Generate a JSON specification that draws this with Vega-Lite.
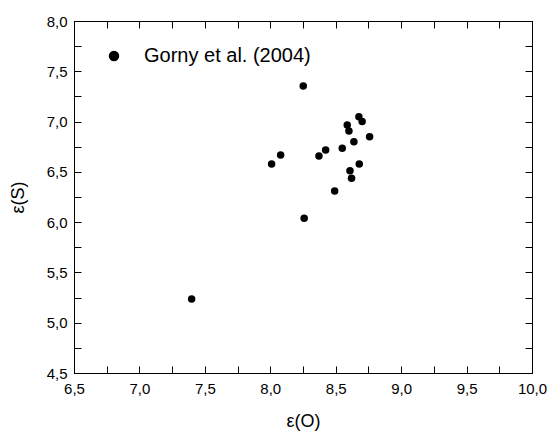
{
  "$schema": "https://vega.github.io/schema/vega-lite/v6.json",
  "width": 458,
  "height": 352,
  "autosize": "none",
  "padding": {"left": 74, "top": 21, "right": 21, "bottom": 59},
  "background": "white",
  "config": {
    "view": {"stroke": "black", "strokeWidth": 1},
    "font": "Liberation Sans",
    "axis": {"grid": false, "domainColor": "black", "tickColor": "black", "labelColor": "black", "titleColor": "black", "titleFontWeight": "normal", "labelFont": "Liberation Sans", "titleFont": "Liberation Sans", "labelOverlap": false, "labelFlush": false}
  },
  "data": {
    "values": [
      {"O": 8.252, "S": 7.354, "series": "Gorny et al. (2004)"},
      {"O": 8.677, "S": 7.049, "series": "Gorny et al. (2004)"},
      {"O": 8.702, "S": 7.0, "series": "Gorny et al. (2004)"},
      {"O": 8.588, "S": 6.966, "series": "Gorny et al. (2004)"},
      {"O": 8.601, "S": 6.907, "series": "Gorny et al. (2004)"},
      {"O": 8.759, "S": 6.85, "series": "Gorny et al. (2004)"},
      {"O": 8.639, "S": 6.8, "series": "Gorny et al. (2004)"},
      {"O": 8.55, "S": 6.735, "series": "Gorny et al. (2004)"},
      {"O": 8.423, "S": 6.718, "series": "Gorny et al. (2004)"},
      {"O": 8.372, "S": 6.658, "series": "Gorny et al. (2004)"},
      {"O": 8.079, "S": 6.668, "series": "Gorny et al. (2004)"},
      {"O": 8.01, "S": 6.579, "series": "Gorny et al. (2004)"},
      {"O": 8.68, "S": 6.579, "series": "Gorny et al. (2004)"},
      {"O": 8.609, "S": 6.512, "series": "Gorny et al. (2004)"},
      {"O": 8.621, "S": 6.436, "series": "Gorny et al. (2004)"},
      {"O": 8.492, "S": 6.31, "series": "Gorny et al. (2004)"},
      {"O": 8.259, "S": 6.039, "series": "Gorny et al. (2004)"},
      {"O": 7.399, "S": 5.235, "series": "Gorny et al. (2004)"}
    ]
  },
  "resolve": {"axis": {"x": "independent", "y": "independent"}},
  "layer": [
    {
      "mark": {"type": "point", "filled": true, "opacity": 1, "size": 56},
      "encoding": {
        "x": {
          "field": "O", "type": "quantitative",
          "scale": {"domain": [6.5, 10.0], "nice": false, "zero": false},
          "axis": {
            "orient": "bottom", "title": "ε(O)", "titleFontSize": 18, "titlePadding": 16,
            "values": [6.5, 6.75, 7.0, 7.25, 7.5, 7.75, 8.0, 8.25, 8.5, 8.75, 9.0, 9.25, 9.5, 9.75, 10.0],
            "labelExpr": "abs(round(datum.value*4))%2==0 ? replace(format(datum.value,'.1f'),'.',',') : ''",
            "labelFontSize": 15, "labelPadding": 15, "tickSize": -7,
            "encode": {"ticks": {"update": {"y2": {"signal": "abs(round(datum.value*4))%2==0 ? -7 : -3.5"}}}}
          }
        },
        "y": {
          "field": "S", "type": "quantitative",
          "scale": {"domain": [4.5, 8.0], "nice": false, "zero": false},
          "axis": {
            "orient": "left", "title": "ε(S)", "titleFontSize": 18, "titlePadding": 19,
            "values": [4.5, 4.75, 5.0, 5.25, 5.5, 5.75, 6.0, 6.25, 6.5, 6.75, 7.0, 7.25, 7.5, 7.75, 8.0],
            "labelExpr": "abs(round(datum.value*4))%2==0 ? replace(format(datum.value,'.1f'),'.',',') : ''",
            "labelFontSize": 15, "labelPadding": 14, "tickSize": -7,
            "encode": {"ticks": {"update": {"x2": {"signal": "abs(round(datum.value*4))%2==0 ? 7 : 3.5"}}}}
          }
        },
        "color": {
          "field": "series", "type": "nominal",
          "scale": {"range": ["black"]},
          "legend": {
            "title": null, "orient": "none", "legendX": 30, "legendY": 25, "padding": 0,
            "symbolType": "circle", "symbolSize": 80, "symbolFillColor": "black", "symbolStrokeColor": "black",
            "labelFontSize": 20, "labelFont": "Liberation Sans", "labelColor": "black", "labelOffset": 20, "labelLimit": 400
          }
        }
      }
    },
    {
      "mark": {"type": "point", "opacity": 0},
      "encoding": {
        "x": {
          "field": "O", "type": "quantitative",
          "axis": {
            "orient": "top", "title": null, "labels": false,
            "values": [6.5, 6.75, 7.0, 7.25, 7.5, 7.75, 8.0, 8.25, 8.5, 8.75, 9.0, 9.25, 9.5, 9.75, 10.0],
            "tickSize": -7,
            "encode": {"ticks": {"update": {"y2": {"signal": "abs(round(datum.value*4))%2==0 ? 7 : 3.5"}}}}
          }
        },
        "y": {
          "field": "S", "type": "quantitative",
          "axis": {
            "orient": "right", "title": null, "labels": false,
            "values": [4.5, 4.75, 5.0, 5.25, 5.5, 5.75, 6.0, 6.25, 6.5, 6.75, 7.0, 7.25, 7.5, 7.75, 8.0],
            "tickSize": -7,
            "encode": {"ticks": {"update": {"x2": {"signal": "abs(round(datum.value*4))%2==0 ? -7 : -3.5"}}}}
          }
        }
      }
    }
  ]
}
